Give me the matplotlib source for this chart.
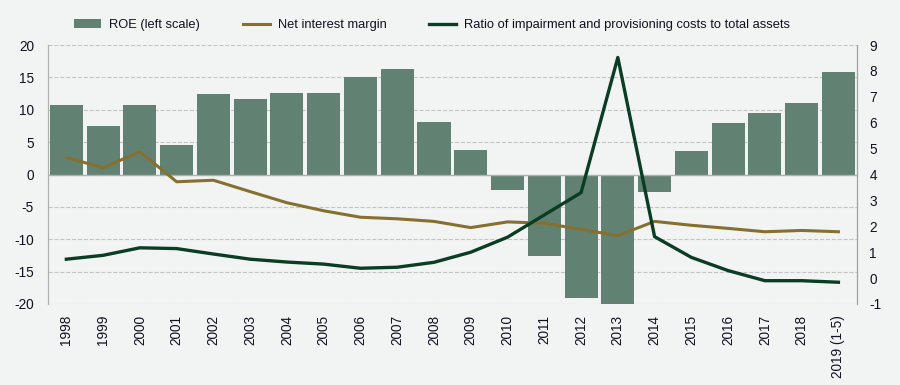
import numpy as np
import matplotlib
matplotlib.use('Agg')
import matplotlib.pyplot as plt

plt.rcParams['font.family'] = ['Liberation Sans', 'DejaVu Sans']
plt.rcParams['axes.unicode_minus'] = False

# ---------- 数据 ----------
years = ['1998', '1999', '2000', '2001', '2002', '2003', '2004', '2005', '2006', '2007',
         '2008', '2009', '2010', '2011', '2012', '2013', '2014', '2015', '2016', '2017',
         '2018', '2019 (1-5)']
roe = [10.7, 7.5, 10.7, 4.6, 12.4, 11.7, 12.6, 12.6, 15.1, 16.3,
       8.1, 3.8, -2.4, -12.6, -19.0, -20.0, -2.65, 3.6, 8.0, 9.5,
       11.0, 15.8]
nim = [4.66, 4.26, 4.88, 3.72, 3.78, 3.34, 2.91, 2.60, 2.35, 2.29,
       2.19, 1.95, 2.17, 2.12, 1.88, 1.64, 2.19, 2.04, 1.92, 1.79,
       1.84, 1.79]
impairment = [0.73, 0.88, 1.17, 1.14, 0.93, 0.73, 0.62, 0.54, 0.38, 0.42,
              0.61, 1.0, 1.58, 2.44, 3.30, 8.52, 1.60, 0.80, 0.29, -0.10,
              -0.10, -0.16]

BG = '#f2f4f3'
BAR_C = '#618272'
NIM_C = '#85702f'
IMP_C = '#0a3d23'
TXT_C = '#111122'

fig = plt.figure(figsize=(9, 3.85), dpi=100, facecolor=BG)
ax = fig.add_axes([0.0533, 0.2104, 0.8987, 0.6726])
ax.set_facecolor(BG)
x = np.arange(len(years))

ax.bar(x, roe, width=0.9, color=BAR_C, label='ROE (left scale)', zorder=2)
ax.axhline(0, color='#b0b0b0', lw=1, zorder=3)
ax.set_ylim(-20, 20)
ax.set_yticks(range(-20, 21, 5))
ax.set_xlim(-0.5, len(years) - 0.5)
ax.set_xticks(x)
ax.set_xticklabels(years, rotation=90)
ax.yaxis.grid(True, linestyle='--', color='#c4c4c4', lw=0.8, zorder=0)
ax.tick_params(axis='y', length=0, labelsize=9.8, colors=TXT_C, pad=10)
ax.tick_params(axis='x', length=0, labelsize=9.8, colors=TXT_C, pad=8)

ax2 = ax.twinx()
ax2.plot(x, nim, color=NIM_C, lw=2.2, label='Net interest margin', zorder=4)
ax2.plot(x, impairment, color=IMP_C, lw=2.4,
         label='Ratio of impairment and provisioning costs to total assets', zorder=5)
ax2.set_ylim(-1, 9)
ax2.set_yticks(range(-1, 10))
ax2.tick_params(length=0, labelsize=9.8, colors=TXT_C, pad=9)

for a in (ax, ax2):
    for s in ['top', 'bottom']:
        a.spines[s].set_visible(False)
    a.spines['left'].set_color('#b0b0b0')
    a.spines['right'].set_color('#a0a0a0')

h1, l1 = ax.get_legend_handles_labels()
h2, l2 = ax2.get_legend_handles_labels()
fig.legend(h1 + h2, l1 + l2, loc='center', bbox_to_anchor=(0.48, 0.935), ncol=3,
           frameon=False, fontsize=9.3, handlelength=2.1, handletextpad=0.6,
           columnspacing=3.3, labelcolor=TXT_C)

fig.savefig('out.png', dpi=100, facecolor=BG)
